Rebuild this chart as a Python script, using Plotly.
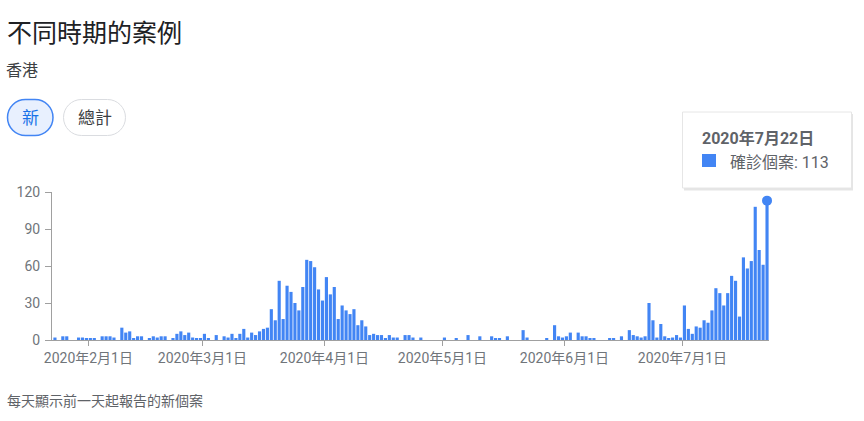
import plotly.graph_objects as go
import pandas as pd

# ---- data (daily new cases, Hong Kong, 2020-01-23 .. 2020-07-22) ----
jan = [2, 0, 3, 3, 0, 0, 2, 2, 1]
feb = [1, 1, 0, 3, 3, 3, 2, 0, 10, 6, 7, 1, 3, 3, 0, 1, 3, 2, 3, 3, 0, 1, 5, 7, 4, 6, 2, 1, 1]
mar = [5, 1, 0, 4, 0, 3, 2, 5, 1, 5, 9, 2, 6, 4, 7, 9, 10, 25, 16, 48, 17, 44, 39, 30, 24, 43, 65, 64, 59, 41, 32]
apr = [51, 37, 43, 17, 28, 24, 21, 25, 12, 16, 11, 4, 5, 4, 4, 1, 4, 2, 2, 0, 4, 4, 2, 0, 2, 0, 0, 0, 0, 0]
may = [2, 0, 0, 1, 0, 0, 4, 0, 0, 3, 0, 0, 3, 1, 1, 0, 3, 0, 0, 0, 8, 2, 0, 0, 0, 0, 1, 0, 12, 3, 2]
jun = [3, 6, 0, 6, 3, 3, 1, 1, 0, 0, 0, 1, 1, 0, 3, 0, 8, 4, 3, 2, 3, 30, 16, 2, 13, 3, 1, 2, 4, 2]
jul = [28, 9, 5, 11, 10, 16, 14, 24, 42, 38, 28, 38, 52, 48, 19, 67, 58, 64, 108, 73, 61, 113]
values = jan + feb + mar + apr + may + jun + jul
dates = pd.date_range("2020-01-23 12:00", periods=len(values), freq="D")

tick_dates = ["2020-02-01", "2020-03-01", "2020-04-01", "2020-05-01", "2020-06-01", "2020-07-01"]
tick_labels = ["2020年2月1日", "2020年3月1日", "2020年4月1日", "2020年5月1日", "2020年6月1日", "2020年7月1日"]
y_ticks = [0, 30, 60, 90, 120]

hl_date = "2020-07-22 12:00"
hl_value = 113

W, H = 864, 421
L, R, T, B = 52, 769, 192, 340

def px(x):
    return (x - L) / (R - L)

def py(y):
    return (B - y) / (B - T)

def pill(x0, y0, x1, y1):
    r = (y1 - y0) / 2
    k = 0.5523 * r
    pts = [
        ("M", [(x0 + r, y0)]),
        ("L", [(x1 - r, y0)]),
        ("C", [(x1 - r + k, y0), (x1, y0 + r - k), (x1, y0 + r)]),
        ("C", [(x1, y0 + r + k), (x1 - r + k, y1), (x1 - r, y1)]),
        ("L", [(x0 + r, y1)]),
        ("C", [(x0 + r - k, y1), (x0, y0 + r + k), (x0, y0 + r)]),
        ("C", [(x0, y0 + r - k), (x0 + r - k, y0), (x0 + r, y0)]),
    ]
    s = ""
    for cmd, ps in pts:
        s += cmd + " " + " ".join(f"{px(a):.5f},{py(b):.5f}" for a, b in ps) + " "
    return s + "Z"

FONT = "Roboto, 'Noto Sans CJK TC', 'Noto Sans', sans-serif"
BLUE = "#4285f4"
AXIS = "#a0a0a0"

fig = go.Figure()
fig.add_trace(go.Bar(x=dates, y=values, marker=dict(color=BLUE, line=dict(width=0)),
                     hoverinfo="skip"))
fig.add_trace(go.Scatter(x=[hl_date], y=[hl_value], mode="markers",
                         marker=dict(color=BLUE, size=10), cliponaxis=False, hoverinfo="skip"))

shapes = []
# buttons
shapes.append(dict(type="path", xref="paper", yref="paper", path=pill(7.5, 99.5, 53, 135.5),
                   fillcolor="#e8f0fe", line=dict(color=BLUE, width=1.5), layer="above"))
shapes.append(dict(type="path", xref="paper", yref="paper", path=pill(63.5, 99.5, 125.5, 135.5),
                   fillcolor="white", line=dict(color="#dadce0", width=1), layer="above"))
# tooltip shadow + box
shapes.append(dict(type="rect", xref="paper", yref="paper", x0=px(684), x1=px(853), y0=py(114), y1=py(190.5),
                   fillcolor="rgba(0,0,0,0.10)", line=dict(width=0), layer="above"))
shapes.append(dict(type="rect", xref="paper", yref="paper", x0=px(682.5), x1=px(851.5), y0=py(112), y1=py(188),
                   fillcolor="white", line=dict(color="#e6e6e6", width=1), layer="above"))
shapes.append(dict(type="rect", xref="paper", yref="paper", x0=px(702), x1=px(716), y0=py(154), y1=py(167),
                   fillcolor=BLUE, line=dict(width=0), layer="above"))

annotations = [
    dict(text="不同時期的案例", x=px(5), y=py(33), xanchor="left", yanchor="middle",
         font=dict(size=25, color="#202124", family=FONT)),
    dict(text="香港", x=px(4.5), y=py(70), xanchor="left", yanchor="middle",
         font=dict(size=16, color="#3c4043", family=FONT)),
    dict(text="新", x=px(30.3), y=py(117.5), xanchor="center", yanchor="middle",
         font=dict(size=17, color="#1a73e8", family=FONT)),
    dict(text="總計", x=px(94.5), y=py(117.5), xanchor="center", yanchor="middle",
         font=dict(size=17, color="#3c4043", family=FONT)),
    dict(text="<b>2020年7月22日</b>", x=px(700), y=py(138), xanchor="left", yanchor="middle",
         font=dict(size=16, color="#5f6368", family=FONT)),
    dict(text="確診個案: 113", x=px(728), y=py(162), xanchor="left", yanchor="middle",
         font=dict(size=16, color="#5f6368", family=FONT)),
    dict(text="每天顯示前一天起報告的新個案", x=px(4.5), y=py(401), xanchor="left", yanchor="middle",
         font=dict(size=14, color="#5f6368", family=FONT)),
]
for a in annotations:
    a.update(xref="paper", yref="paper", showarrow=False)

fig.update_layout(
    width=W, height=H,
    margin=dict(l=L, r=W - R, t=T, b=H - B, pad=0),
    paper_bgcolor="white", plot_bgcolor="white",
    showlegend=False, bargap=0.2,
    font=dict(family=FONT, color="#70757a", size=14),
    shapes=shapes, annotations=annotations,
    hovermode=False,
)
fig.update_xaxes(type="date", range=["2020-01-22 18:00", "2020-07-23 00:00"],
                 tickvals=tick_dates, ticktext=tick_labels,
                 ticks="outside", ticklen=5, tickcolor=AXIS, tickwidth=1,
                 showline=True, linecolor=AXIS, linewidth=1,
                 showgrid=False, zeroline=False,
                 tickfont=dict(size=14, color="#70757a"))
fig.update_yaxes(range=[0, 120], tickvals=y_ticks,
                 ticks="outside", ticklen=6, tickcolor=AXIS, tickwidth=1,
                 showline=True, linecolor=AXIS, linewidth=1,
                 showgrid=False, zeroline=False, ticklabelstandoff=2,
                 tickfont=dict(size=14, color="#70757a"))

fig.write_html("out.html", config={"displayModeBar": False},
               post_script="document.body.style.margin='0';document.body.style.overflow='hidden';")
